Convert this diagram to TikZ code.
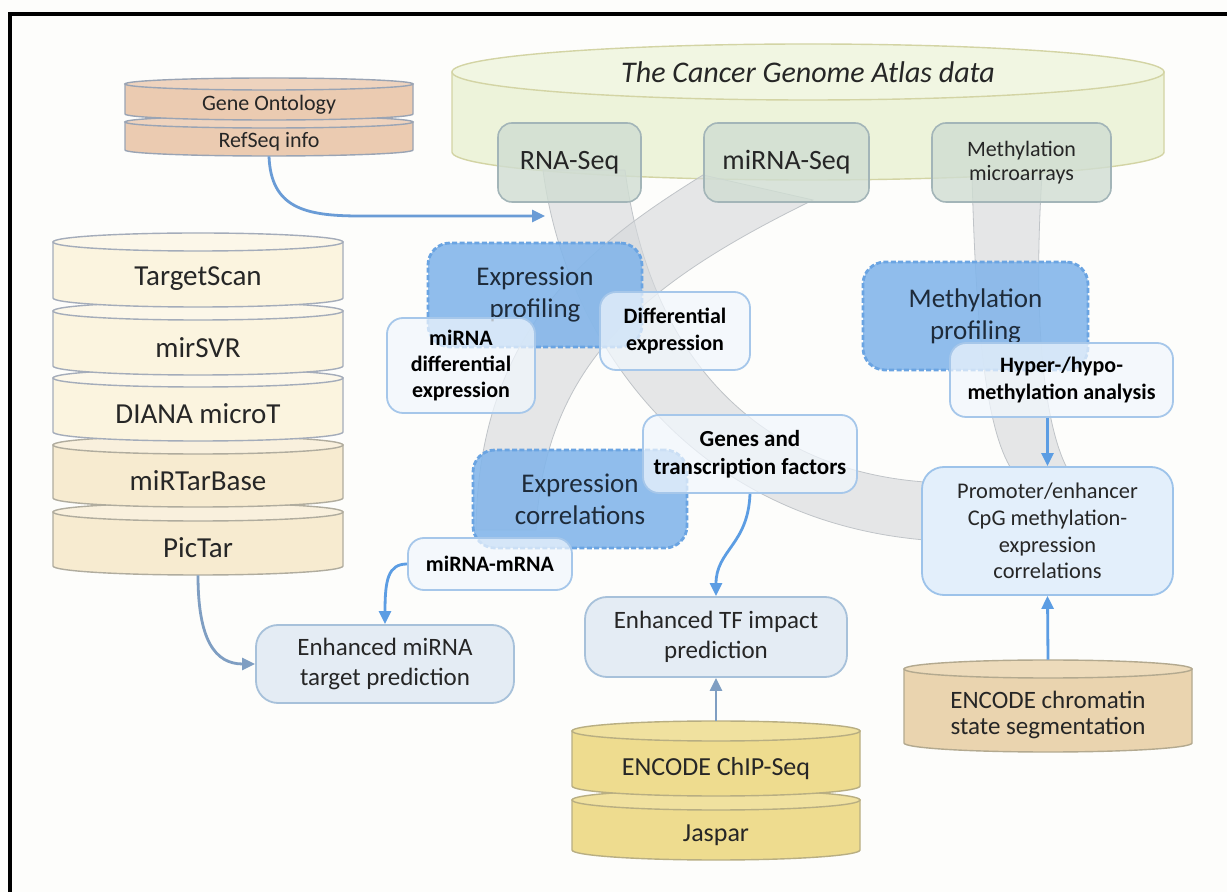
\documentclass[tikz,border=0pt]{standalone}
\usepackage{fontspec}
\setmainfont{Carlito}
\usetikzlibrary{arrows.meta}
\definecolor{bg}{HTML}{FDFDFB}
\definecolor{tcga}{HTML}{EDF3DA}
\definecolor{tcgatop}{HTML}{F1F6E2}
\definecolor{tcgaedge}{HTML}{D3D4A4}
\definecolor{topfill}{HTML}{D0DDD2}
\definecolor{topedge}{HTML}{A3B5B8}
\definecolor{peach}{HTML}{EBCBB1}
\definecolor{peachtop}{HTML}{EED3BE}
\definecolor{peachedge}{HTML}{9AA4B4}
\definecolor{cream}{HTML}{FBF4DF}
\definecolor{creamtop}{HTML}{FCF7E9}
\definecolor{creamedge}{HTML}{A4ACBA}
\definecolor{creamb}{HTML}{F7EBD0}
\definecolor{creambtop}{HTML}{F9F0DD}
\definecolor{creambedge}{HTML}{B0AC9E}
\definecolor{yel}{HTML}{EEDC8F}
\definecolor{yeltop}{HTML}{F0E19F}
\definecolor{yeledge}{HTML}{B8AE82}
\definecolor{tan}{HTML}{EAD4AF}
\definecolor{tantop}{HTML}{EDDBBB}
\definecolor{tanedge}{HTML}{B3A98F}
\definecolor{bluefill}{HTML}{82B5EA}
\definecolor{bluedash}{HTML}{6AA4E2}
\definecolor{wfill}{HTML}{F1F7FD}
\definecolor{wedge}{HTML}{A6C7EA}
\definecolor{enhfill}{HTML}{E4ECF4}
\definecolor{enhedge}{HTML}{A7C1DA}
\definecolor{promofill}{HTML}{E3EFFB}
\definecolor{promoedge}{HTML}{9DC3EA}
\definecolor{arrblue}{HTML}{5C9DE3}
\definecolor{arrsteel}{HTML}{7F9EC2}
\definecolor{arrmix}{HTML}{6A9CD6}
\definecolor{bandc}{HTML}{D5D8DB}
\definecolor{bandedge}{HTML}{C0C4C8}
\definecolor{txt}{HTML}{262626}
\definecolor{navy}{HTML}{1E2B3A}

\newcommand\bx[7]{\node[#1, minimum width={(#5-#3)*0.5pt}, minimum height={(#6-#4)*0.5pt}] (#2) at ({(#3+#5)/2},{(#4+#6)/2}) {#7};}
% name, cx, ytop, ybottom, rx, ry, colour prefix, font, text
\newcommand\cyl[9]{%
 \filldraw[fill=#7, draw=#7edge, line width=0.7pt] ({#2-#5},#3) -- ({#2-#5},#4) arc[start angle=180,end angle=0,x radius=#5,y radius=#6] -- ({#2+#5},#3) -- cycle;
 \filldraw[fill=#7top, draw=#7edge, line width=0.7pt] (#2,#3) ellipse[x radius=#5, y radius=#6];
 \node[cyltext, font=#8, minimum width={2*#5*0.5pt}, minimum height={(#4-#3)*0.5pt}] (#1) at (#2,{(#3+#4)/2+#6}) {#9};
}

\begin{document}
\begin{tikzpicture}[x=0.5pt,y=-0.5pt,
  cyltext/.style={inner sep=0pt, align=center, text=txt},
  topbox/.style={draw=topedge, fill=topfill, fill opacity=0.8, text opacity=1, line width=0.8pt, rounded corners=7pt, align=center, text=txt, inner sep=0pt, font=\fontsize{14}{16.8}\selectfont},
  bluebox/.style={fill=bluefill, fill opacity=0.88, text opacity=1, draw=bluedash, line width=1.4pt, dash pattern=on 2.5pt off 1.2pt, rounded corners=11pt, align=center, text=navy, inner sep=0pt, font=\fontsize{13.5}{16}\selectfont},
  wbox/.style={fill=wfill, fill opacity=0.72, text opacity=1, draw=wedge, line width=0.9pt, rounded corners=8pt, align=center, text=black, inner sep=0pt, font=\bfseries\fontsize{11}{13.2}\selectfont},
  enhbox/.style={fill=enhfill, draw=enhedge, line width=0.9pt, rounded corners=11pt, align=center, text=txt, inner sep=0pt, font=\fontsize{12.5}{15}\selectfont},
  promobox/.style={fill=promofill, draw=promoedge, line width=0.9pt, rounded corners=11pt, align=center, text=txt, inner sep=0pt, font=\fontsize{11.2}{13.4}\selectfont},
  bandpath/.style={fill=bandc, fill opacity=0.6, draw=bandedge, line width=0.4pt},
  arr/.style={-{Triangle[length=6.5pt,width=6pt]}, line width=1.4pt, draw=arrblue},
  sarr/.style={arr, draw=arrsteel},
]
\useasboundingbox (0,0) rectangle (1227,892);
\fill[bg] (0,0) rectangle (1227,892);
\draw[line width=2pt] (10,892) -- (10,14.5) -- (1227,14.5);

% cylinders
\cyl{tcgabody}{808}{72}{152}{356}{28}{tcga}{\normalsize}{}
\node[font=\itshape\fontsize{15}{18}\selectfont, text=txt] (tcga) at (808,72) {The Cancer Genome Atlas data};

\cyl{refseq}{269}{122}{150}{144}{6}{peach}{\fontsize{11}{13}\selectfont}{RefSeq info}
\cyl{geneont}{269}{84}{114}{144}{6}{peach}{\fontsize{11}{13}\selectfont}{Gene Ontology}

\cyl{pictar}{198}{512}{566}{145}{9}{creamb}{\fontsize{14.5}{17}\selectfont}{PicTar}
\cyl{mirtarbase}{198}{445}{498}{145}{9}{creamb}{\fontsize{14.5}{17}\selectfont}{miRTarBase}
\cyl{diana}{198}{378}{432}{145}{9}{cream}{\fontsize{14.5}{17}\selectfont}{DIANA microT}
\cyl{mirsvr}{198}{311}{366}{145}{9}{cream}{\fontsize{14.5}{17}\selectfont}{mirSVR}
\cyl{targetscan}{198}{242}{298}{145}{9}{cream}{\fontsize{14.5}{17}\selectfont}{TargetScan}

\cyl{jaspar}{716}{800}{850}{144}{10}{yel}{\fontsize{13}{15}\selectfont}{Jaspar}
\cyl{chipseq}{716}{731}{786}{144}{10}{yel}{\fontsize{13}{15}\selectfont}{ENCODE ChIP-Seq}

\cyl{chromatin}{1048}{669}{743}{144}{9}{tan}{\fontsize{12.5}{12.8}\selectfont}{ENCODE chromatin\\state segmentation}

% grey bands
\path[bandpath] (543,170) .. controls (565,340) and (690,520) .. (925,540) -- (925,482) .. controls (760,470) and (650,360) .. (625,170) -- cycle;
\path[bandpath] (703,175) .. controls (590,245) and (478,330) .. (476,530) -- (536,530) .. controls (545,360) and (650,280) .. (813,200) -- cycle;
\path[bandpath] (972,175) .. controls (976,330) and (986,430) .. (1012,470) -- (1068,470) .. controls (1046,430) and (1032,330) .. (1042,175) -- cycle;

% data boxes on TCGA
\bx{topbox}{rnaseq}{498}{123}{641}{202}{RNA-Seq}
\bx{topbox}{mirnaseq}{704}{123}{869}{202}{miRNA-Seq}
\bx{topbox,font=\fontsize{11}{12}\selectfont}{metharr}{932}{123}{1111}{202}{Methylation\\microarrays}

% profiling boxes
\bx{bluebox}{exprof}{428}{243}{642}{347}{Expression\\profiling}
\bx{bluebox}{methprof}{863}{262}{1088}{370}{Methylation\\profiling}
\bx{bluebox}{excorr}{473}{450}{687}{548}{Expression\\correlations}

% analysis boxes
\bx{wbox}{mirdiff}{387}{318}{535}{413}{miRNA\\differential\\expression}
\bx{wbox}{diffexp}{600}{292}{750}{370}{Differential\\expression}
\bx{wbox}{hyper}{950}{343}{1173}{417}{Hyper-/hypo-\\methylation analysis}
\bx{wbox,font=\bfseries\fontsize{11.5}{13.8}\selectfont}{genestf}{643}{415}{857}{493}{Genes and\\transcription factors}
\bx{wbox}{mirmrna}{408}{538}{572}{590}{miRNA-mRNA}

% result boxes
\bx{enhbox}{mirtarget}{256}{625}{514}{703}{Enhanced miRNA\\target prediction}
\bx{enhbox}{tfimpact}{585}{597}{847}{677}{Enhanced TF impact\\prediction}
\bx{promobox}{promoter}{922}{467}{1173}{595}{Promoter/enhancer\\CpG methylation-\\expression\\correlations}

% connectors
\coordinate (rnain) at (545,216);
\draw[arr, draw=arrmix] (refseq.south) .. controls (271,208) and (305,216) .. (360,216) -- (rnain);
\draw[sarr] (pictar.south) .. controls (198,640) and (215,664) .. (mirtarget.west);
\draw[arr] (mirmrna.west) .. controls (388,564) and (385,580) .. (mirtarget.north);
\draw[arr] (genestf.south) .. controls (748,545) and (716,550) .. (tfimpact.north);
\draw[sarr] ([yshift=10pt]chipseq.north) -- (tfimpact.south);
\draw[arr] (hyper.south -| promoter.north) -- (promoter.north);
\draw[arr] ([yshift=9pt]chromatin.north) -- (promoter.south);
\end{tikzpicture}
\end{document}
